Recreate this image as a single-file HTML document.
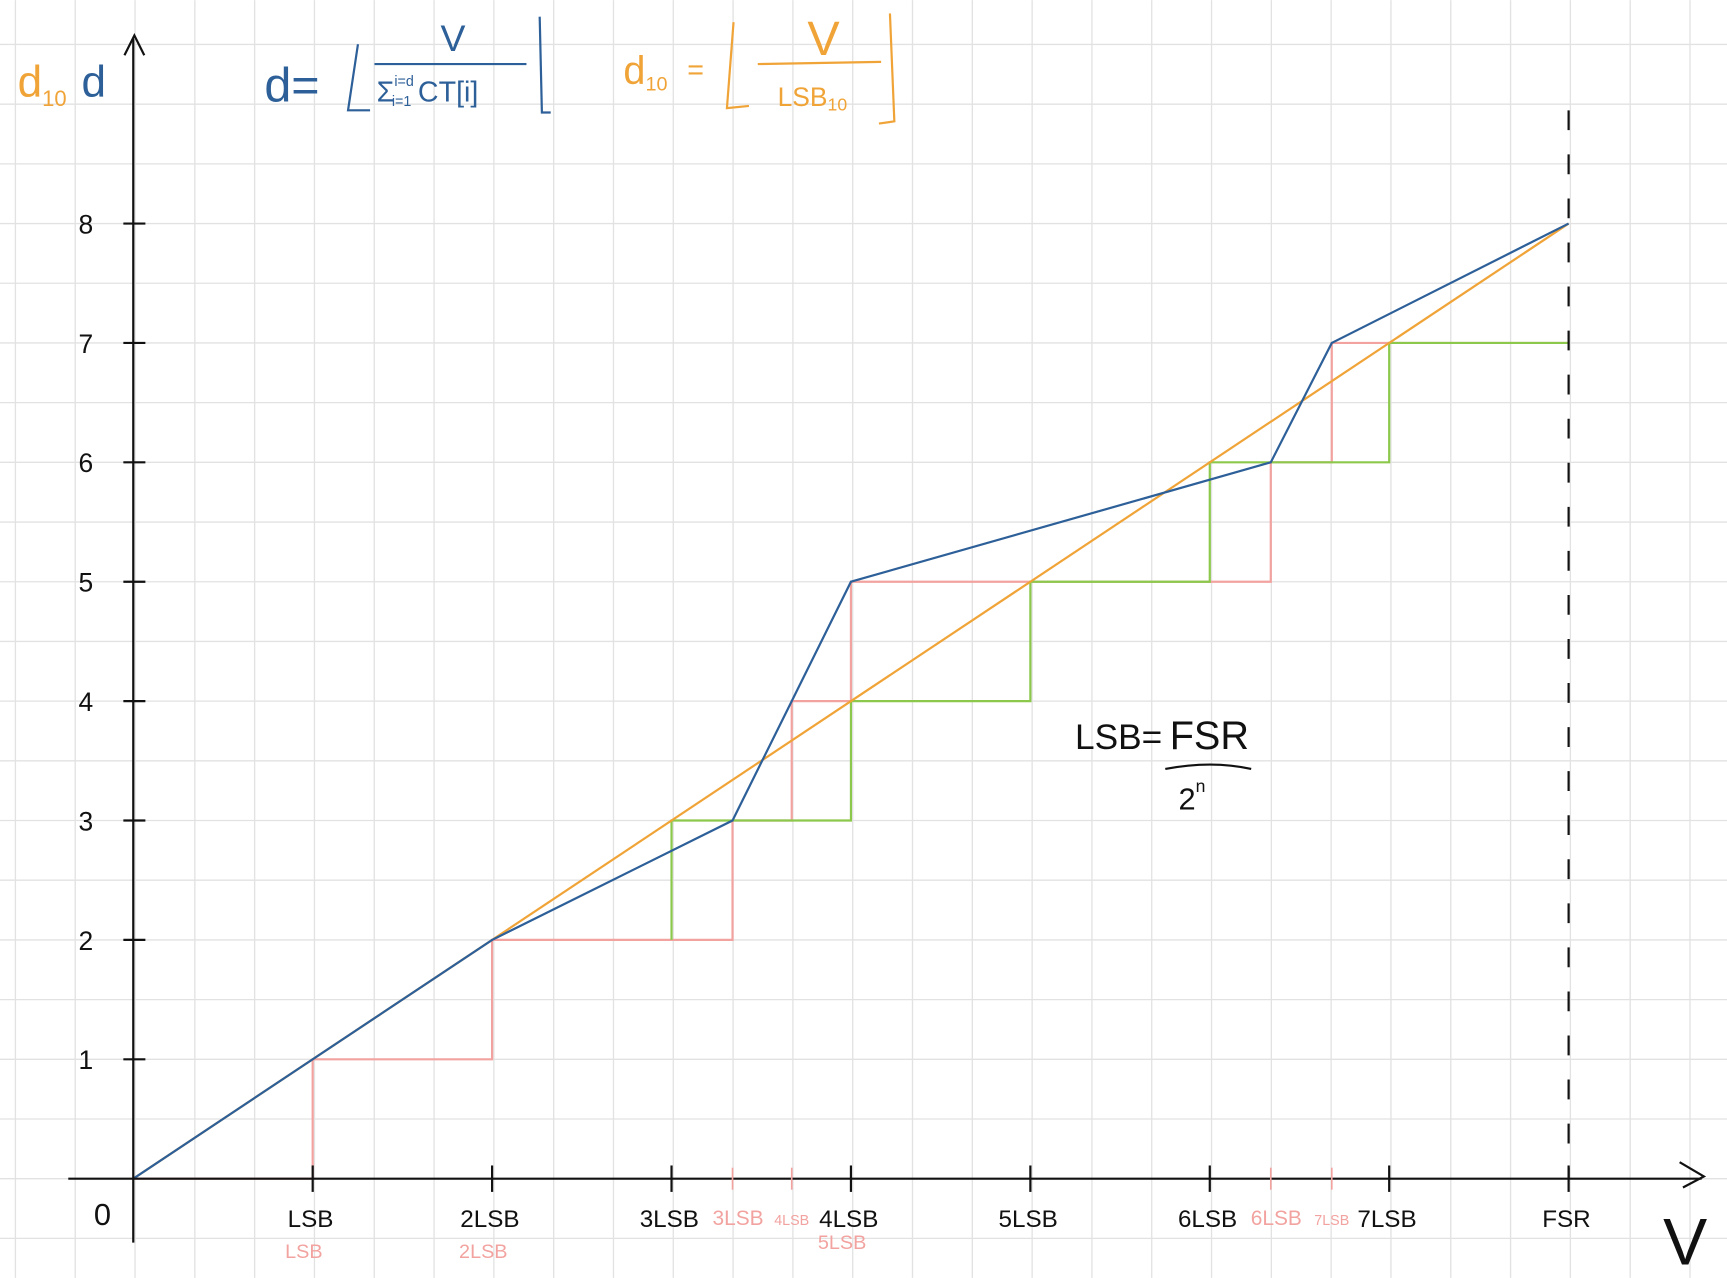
<!DOCTYPE html>
<html><head><meta charset="utf-8">
<style>
html,body{margin:0;padding:0;background:#fff;}
svg{display:block;}
text{font-family:"Liberation Sans",sans-serif;}
</style></head>
<body>
<svg id="chart" width="1727" height="1278" viewBox="0 0 1568 1160" xmlns="http://www.w3.org/2000/svg">
<g id="grid"></g>
<g id="marks"></g>
<g id="axes"></g>
<g id="labels"></g>
</svg>
<script>
// data (x in LSB units, y in code units)
const idealX = [0, 8];
const idealY = [0, 8];
const blueX = [0, 2, 3.34, 3.67, 4, 6.34, 6.68, 8];
const blueY = [0, 2, 3, 4, 5, 6, 7, 8];
const pinkStepX = [0, 1, 2, 3.34, 3.67, 4, 6.34, 6.68, 8];
const pinkStepY = [0, 1, 2, 3, 4, 5, 6, 7];
const greenStepX = [3, 4, 5, 6, 7, 8];
const greenStepY = [2, 3, 4, 5, 6, 7];
const yTicks = [1, 2, 3, 4, 5, 6, 7, 8];
const xTicks = [1, 2, 3, 4, 5, 6, 7, 8];
const xTickLabels = ["LSB", "2LSB", "3LSB", "4LSB", "5LSB", "6LSB", "7LSB", "FSR"];
const pinkTickX = [3.34, 3.67, 6.34, 6.68];
const pinkTickLabels = ["3LSB", "4LSB", "6LSB", "7LSB"];

const NS = "http://www.w3.org/2000/svg";
const X0 = 121, Y0 = 1070, UX = 162.9, UY = 108.4;
const sx = v => X0 + v * UX;
const sy = v => Y0 - v * UY;
function mk(parent, tag, attrs, txt) {
  const e = document.createElementNS(NS, tag);
  for (const k in attrs) e.setAttribute(k, attrs[k]);
  if (txt !== undefined) e.textContent = txt;
  document.getElementById(parent).appendChild(e);
  return e;
}
// grid
for (let x = 14; x < 1568; x += 54.3) {
  const l = mk("grid", "line", {x1: x, y1: 0, x2: x, y2: 1160, stroke: "#e2e2e2", "stroke-width": 1.2});
  
  
}
for (let y = 1070 + 54.2 * 1; y > 0; y -= 54.2) {
  const l = mk("grid", "line", {x1: 0, y1: y, x2: 1568, y2: y, stroke: "#e2e2e2", "stroke-width": 1.2});
  
  
}
// steps
function stepPath(xs, ys, startX) {
  let d = "M" + sx(startX) + "," + sy(ys[0]);
  for (let i = 0; i < ys.length; i++) {
    d += " L" + sx(xs[i + (xs.length > ys.length ? 1 : 0)]) + "," + sy(ys[i]);
    if (i < ys.length - 1) d += " L" + sx(xs[i + (xs.length > ys.length ? 1 : 0)]) + "," + sy(ys[i + 1]);
  }
  return d;
}
// green: starts at x=greenStepX[0] at y greenStepY[0]
let gd = "M" + sx(greenStepX[0]) + "," + sy(greenStepY[0]);
for (let i = 0; i < greenStepY.length; i++) {
  if (i > 0) gd += " L" + sx(greenStepX[i - 1]) + "," + sy(greenStepY[i]);
  gd += " L" + sx(greenStepX[i]) + "," + sy(greenStepY[i]);
}
// pink
let pd = "M" + sx(pinkStepX[0]) + "," + sy(pinkStepY[0]);
for (let i = 0; i < pinkStepY.length; i++) {
  if (i > 0) pd += " L" + sx(pinkStepX[i]) + "," + sy(pinkStepY[i]);
  pd += " L" + sx(pinkStepX[i + 1]) + "," + sy(pinkStepY[i]);
}
const pk = mk("marks", "path", {d: pd, fill: "none", stroke: "#f2a3a0", "stroke-width": 2});


const gr = mk("marks", "path", {d: gd, fill: "none", stroke: "#8cc84b", "stroke-width": 2});


const ideal = mk("marks", "line", {x1: sx(idealX[0]), y1: sy(idealY[0]), x2: sx(idealX[1]), y2: sy(idealY[1]), stroke: "#f0a438", "stroke-width": 2});


const bl = mk("marks", "polyline", {points: blueX.map((v, i) => sx(v) + "," + sy(blueY[i])).join(" "), fill: "none", stroke: "#2d5f98", "stroke-width": 2});


// axes
const ax = mk("axes", "line", {x1: 62, y1: Y0, x2: 1545, y2: Y0, stroke: "#111", "stroke-width": 2});


const ay = mk("axes", "line", {x1: X0, y1: 1128, x2: X0, y2: 35, stroke: "#111", "stroke-width": 2});


const aa = mk("axes", "path", {d: "M113,50 L122,32 L131,50 M1525,1055 L1547,1068 L1528,1078", fill: "none", stroke: "#111", "stroke-width": 2});


const fsr = mk("axes", "line", {x1: sx(8), y1: 100, x2: sx(8), y2: Y0, stroke: "#111", "stroke-width": 2, "stroke-dasharray": "18,22"});


yTicks.forEach(v => {
  const t = mk("axes", "line", {x1: 112, y1: sy(v), x2: 132, y2: sy(v), stroke: "#111", "stroke-width": 2});
  
  
  const l = mk("labels", "text", {x: 78, y: sy(v) + 9, "font-size": 24, "text-anchor": "middle", fill: "#111"}, String(v));
  
  
});
xTicks.forEach((v, i) => {
  const t = mk("axes", "line", {x1: sx(v), y1: Y0 - 12, x2: sx(v), y2: Y0 + 12, stroke: "#111", "stroke-width": 2});
  
  
  const l = mk("labels", "text", {x: sx(v) - 2, y: Y0 + 44, "font-size": 22, "text-anchor": "middle", fill: "#111"}, xTickLabels[i]);
  
  
});
pinkTickX.forEach((v, i) => {
  const t = mk("axes", "line", {x1: sx(v), y1: Y0 - 10, x2: sx(v), y2: Y0 + 10, stroke: "#f2a3a0", "stroke-width": 1.5});
  
  
  const l = mk("labels", "text", {x: sx(v) + (i % 2 ? 0 : 5), y: Y0 + 42, "font-size": i % 2 ? 13 : 19, "text-anchor": "middle", fill: "#f2a3a0"}, pinkTickLabels[i]);
  
  
});
[["LSB", 1], ["2LSB", 2], ["5LSB", 4]].forEach(p => {
  const l = mk("labels", "text", {x: sx(p[1]) - 8, y: Y0 + (p[1] === 4 ? 64 : 72), "font-size": 18, "text-anchor": "middle", fill: "#f2a3a0"}, p[0]);
  
  
});
const z = mk("labels", "text", {x: 93, y: 1112, "font-size": 28, "text-anchor": "middle", fill: "#111"}, "0");


const v = mk("labels", "text", {x: 1530, y: 1148, "font-size": 60, "text-anchor": "middle", fill: "#111"}, "V");


</script>
<svg style="position:absolute;left:0;top:0" width="1727" height="1278" viewBox="0 0 1568 1160" xmlns="http://www.w3.org/2000/svg">
  <text x="16" y="88" font-size="40" fill="#f0a438" font-family="Liberation Sans,sans-serif">d<tspan font-size="20" dy="8">10</tspan></text>
  <text x="74" y="88" font-size="40" fill="#2d5f98" font-family="Liberation Sans,sans-serif">d</text>
  <g fill="#2d5f98" font-family="Liberation Sans,sans-serif">
    <text x="240" y="92" font-size="44">d=</text>
    <path d="M325,40 L316,100 L336,100 M490,15 L492,102 L500,102 M340,58 L478,58" fill="none" stroke="#2d5f98" stroke-width="2"/>
    <text x="400" y="46" font-size="34">V</text>
    <text x="342" y="92" font-size="26">Σ<tspan font-size="13" dy="-14">i=d</tspan><tspan font-size="13" dx="-20" dy="18">i=1</tspan><tspan font-size="26" dx="6" dy="-4">CT[i]</tspan></text>
  </g>
  <g fill="#f0a438" font-family="Liberation Sans,sans-serif">
    <text x="566" y="76" font-size="36">d<tspan font-size="18" dy="6">10</tspan></text>
    <text x="624" y="72" font-size="26">=</text>
    <path d="M666,20 L660,98 L680,96 M808,12 L812,110 L798,112 M688,58 L800,56" fill="none" stroke="#f0a438" stroke-width="2"/>
    <text x="733" y="50" font-size="44">V</text>
    <text x="706" y="96" font-size="24">LSB<tspan font-size="16" dy="4">10</tspan></text>
  </g>
  <g fill="#111" font-family="Liberation Sans,sans-serif">
    <text x="976" y="680" font-size="32">LSB=</text>
    <text x="1062" y="680" font-size="36">FSR</text>
    <path d="M1058,698 Q1100,690 1136,698" fill="none" stroke="#111" stroke-width="2"/>
    <text x="1070" y="735" font-size="28">2<tspan font-size="16" dy="-16">n</tspan></text>
  </g>
</svg>
</body></html>
